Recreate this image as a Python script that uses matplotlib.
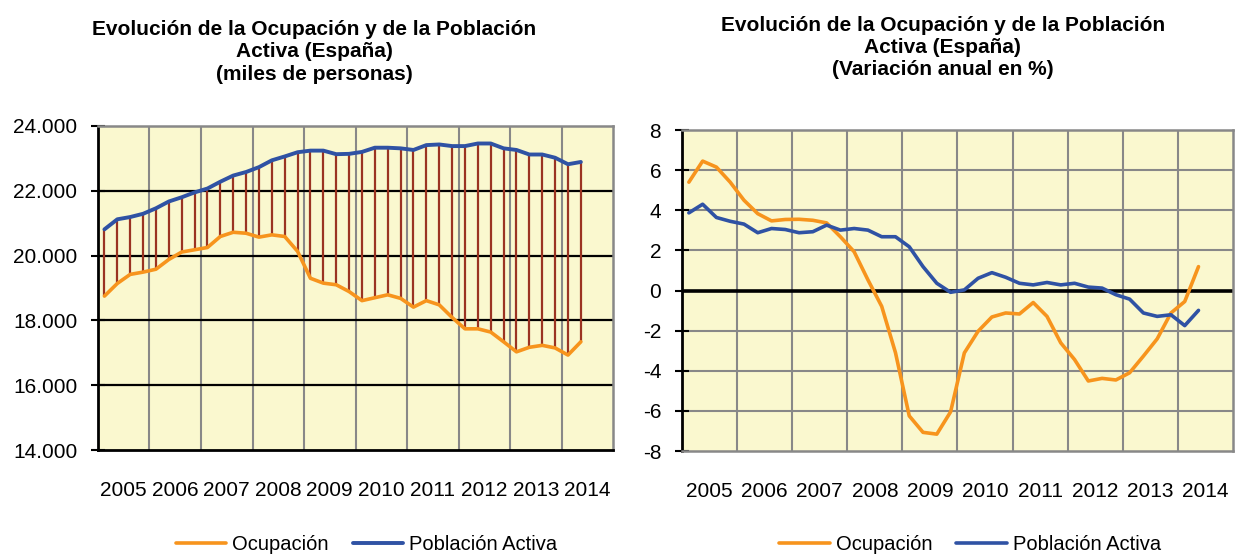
import matplotlib
matplotlib.use("Agg")
import matplotlib.pyplot as plt
from matplotlib.ticker import FuncFormatter

plt.rcParams['font.family'] = ['Liberation Sans', 'DejaVu Sans']

# quarterly data, 2005T1 .. 2014T2 (38 quarters)
years = [str(y) for y in range(2005, 2015)]

# miles de personas
ocupacion_miles = [18750, 19140, 19420, 19490, 19580, 19880, 20110, 20180,
                   20250, 20590, 20720, 20690, 20570, 20640, 20590, 20130,
                   19300, 19150, 19100, 18890, 18610, 18700, 18790, 18680,
                   18410, 18610, 18480, 18090, 17740, 17740, 17640, 17340,
                   17030, 17170, 17230, 17150, 16930, 17340]
activa_miles = [20810, 21120, 21190, 21290, 21460, 21670, 21800, 21950,
                22070, 22280, 22470, 22580, 22730, 22940, 23060, 23190,
                23240, 23240, 23130, 23140, 23200, 23330, 23330, 23310,
                23260, 23410, 23430, 23380, 23380, 23460, 23460, 23310,
                23260, 23120, 23120, 23020, 22820, 22890]

# variación anual en %
ocupacion_var = [5.40, 6.45, 6.15, 5.40, 4.50, 3.83, 3.47, 3.54,
                 3.55, 3.50, 3.37, 2.68, 1.93, 0.53, -0.79, -3.10,
                 -6.25, -7.07, -7.16, -6.05, -3.11, -2.03, -1.32, -1.12,
                 -1.17, -0.60, -1.29, -2.61, -3.44, -4.51, -4.38, -4.46,
                 -4.10, -3.27, -2.41, -1.12, -0.55, 1.19]
activa_var = [3.87, 4.30, 3.64, 3.45, 3.31, 2.88, 3.09, 3.04,
              2.88, 2.93, 3.26, 3.01, 3.09, 3.01, 2.68, 2.68,
              2.18, 1.19, 0.36, -0.09, 0.03, 0.61, 0.89, 0.66,
              0.36, 0.28, 0.40, 0.28, 0.36, 0.17, 0.12, -0.21,
              -0.43, -1.12, -1.29, -1.21, -1.75, -0.99]

ORANGE = '#F7941D'
BLUE = '#2F52A4'
DROP = '#9B3322'
BG = '#FAF8CF'
GRID = '#888888'

xpos = [i + 0.5 for i in range(len(ocupacion_miles))]
n_slots = 4 * len(years)

fig = plt.figure(figsize=(12.42, 5.57), dpi=100)
ax1 = fig.add_axes([0.0789, 0.1921, 0.4147, 0.5817])
ax2 = fig.add_axes([0.5491, 0.1903, 0.4436, 0.5763])


def setup_axes(ax):
    ax.set_facecolor(BG)
    ax.set_xlim(0, n_slots)
    for k in range(4, n_slots, 4):
        ax.axvline(k, color=GRID, lw=1.5, zorder=1)
    ax.set_xticks([4 * k + 2 for k in range(len(years))])
    ax.set_xticklabels(years, fontsize=15)
    ax.tick_params(axis='x', length=0, pad=22)
    ax.tick_params(axis='y', direction='inout', length=10, width=1.5,
                   labelsize=15, pad=10)
    for s in ['top', 'right']:
        ax.spines[s].set_color(GRID)
        ax.spines[s].set_linewidth(1.8)
    ax.spines['left'].set_linewidth(2)
    ax.spines['left'].set_color('black')


# ---- left: niveles ----
setup_axes(ax1)
ax1.set_ylim(14000, 24000)
ax1.set_yticks(range(14000, 24001, 2000))
ax1.yaxis.set_major_formatter(FuncFormatter(lambda v, p: f'{int(v):,}'.replace(',', '.')))
for v in range(16000, 24000, 2000):
    ax1.axhline(v, color='black', lw=1.6, zorder=1)
ax1.spines['bottom'].set_color('black')
ax1.spines['bottom'].set_linewidth(2)
ax1.vlines(xpos, ocupacion_miles, activa_miles, color=DROP, lw=1.6, zorder=2)
ax1.plot(xpos, ocupacion_miles, color=ORANGE, lw=2.6, solid_joinstyle='round',
         solid_capstyle='round', zorder=3, label='Ocupación')
ax1.plot(xpos, activa_miles, color=BLUE, lw=2.8, solid_joinstyle='round',
         solid_capstyle='round', zorder=3, label='Población Activa')
fig.text(0.253, 0.907,
         'Evolución de la Ocupación y de la Población\nActiva (España)\n(miles de personas)',
         ha='center', va='center', fontsize=15, fontweight='bold', linespacing=1.22)

# ---- right: variación anual ----
setup_axes(ax2)
ax2.set_ylim(-8, 8)
ax2.set_yticks(range(-8, 9, 2))
ax2.yaxis.set_major_formatter(FuncFormatter(lambda v, p: f'{int(v)}'))
for v in range(-6, 8, 2):
    if v != 0:
        ax2.axhline(v, color=GRID, lw=1.5, zorder=1)
ax2.axhline(0, color='black', lw=2.6, zorder=2)
ax2.spines['bottom'].set_color(GRID)
ax2.spines['bottom'].set_linewidth(1.8)
ax2.plot(xpos, ocupacion_var, color=ORANGE, lw=2.6, solid_joinstyle='round',
         solid_capstyle='round', zorder=3, label='Ocupación')
ax2.plot(xpos, activa_var, color=BLUE, lw=2.6, solid_joinstyle='round',
         solid_capstyle='round', zorder=3, label='Población Activa')
fig.text(0.759, 0.915,
         'Evolución de la Ocupación y de la Población\nActiva (España)\n(Variación anual en %)',
         ha='center', va='center', fontsize=15, fontweight='bold', linespacing=1.22)

# legends at the bottom
fig.legend(*ax1.get_legend_handles_labels(), loc='center', bbox_to_anchor=(0.295, 0.022),
           ncol=2, frameon=False, fontsize=14.5, handlelength=2.5, columnspacing=1.2,
           handletextpad=0.3)
fig.legend(*ax2.get_legend_handles_labels(), loc='center', bbox_to_anchor=(0.781, 0.022),
           ncol=2, frameon=False, fontsize=14.5, handlelength=2.5, columnspacing=1.2,
           handletextpad=0.3)

fig.savefig('out.png', dpi=100, facecolor='white')
